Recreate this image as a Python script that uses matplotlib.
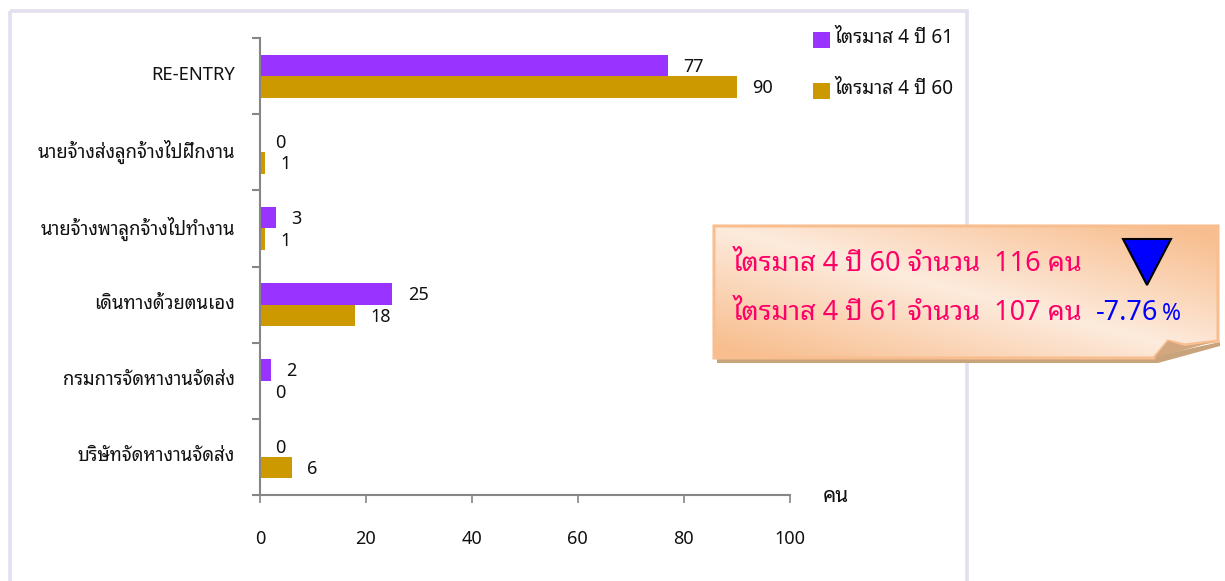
import matplotlib
matplotlib.use('Agg')
import matplotlib.pyplot as plt
import numpy as np
from matplotlib.patches import PathPatch, Polygon, Rectangle
from matplotlib.path import Path

plt.rcParams['font.family'] = ['Noto Sans Thai Looped', 'Noto Sans Thai', 'DejaVu Sans']

categories = ['RE-ENTRY', 'นายจ้างส่งลูกจ้างไปฝึกงาน', 'นายจ้างพาลูกจ้างไปทำงาน',
              'เดินทางด้วยตนเอง', 'กรมการจัดหางานจัดส่ง', 'บริษัทจัดหางานจัดส่ง']
q4_61 = [77, 0, 3, 25, 2, 0]
q4_60 = [90, 1, 1, 18, 0, 6]
x_ticks = [0, 20, 40, 60, 80, 100]
name_61 = 'ไตรมาส 4 ปี 61'
name_60 = 'ไตรมาส 4 ปี 60'
line_60 = 'ไตรมาส 4 ปี 60 จำนวน  116 คน'
line_61 = 'ไตรมาส 4 ปี 61 จำนวน  107 คน'
change = '-7.76'

W, H = 1225, 581
PURPLE = '#9933FF'
GOLD = '#CC9900'
GREY = '#868686'
TXT = '#111111'
FS = 13

fig = plt.figure(figsize=(W / 100, H / 100), dpi=100, facecolor='white')

# overlay in pixel coords for the frame and the note
bg = fig.add_axes([0, 0, 1, 1], zorder=0)
bg.set_xlim(0, W)
bg.set_ylim(H, 0)
bg.axis('off')
bg.add_patch(Rectangle((9.5, 10.5), 957, 600, fill=False, ec='#E3DFEE', lw=2.6))

ax = fig.add_axes([260 / W, 1 - 495 / H, 529.5 / W, 457 / H], zorder=1)
ax.patch.set_alpha(0)
y = np.arange(len(categories))
bar_h = 0.283
ax.barh(y - bar_h / 2, q4_61, bar_h, color=PURPLE)
ax.barh(y + bar_h / 2, q4_60, bar_h, color=GOLD)
ax.set_xlim(0, 100)
ax.set_ylim(len(categories) - 0.5, -0.5)

for i in range(len(categories)):
    ax.annotate(str(q4_61[i]), (q4_61[i], y[i] - bar_h / 2), xytext=(11, -1), textcoords='offset points',
                ha='left', va='center', fontsize=FS, color=TXT)
    ax.annotate(str(q4_60[i]), (q4_60[i], y[i] + bar_h / 2), xytext=(11, -1), textcoords='offset points',
                ha='left', va='center', fontsize=FS, color=TXT)

ax.set_yticks(np.arange(len(categories) + 1) - 0.5)
ax.set_yticklabels([])
ax.set_yticks(y - 0.04, categories, minor=True, fontsize=13.25, color=TXT, fontweight=500)
ax.tick_params(axis='y', which='major', length=5.5, width=1.5, color=GREY)
ax.tick_params(axis='y', which='minor', length=0, pad=18)
ax.set_xticks(x_ticks)
ax.tick_params(axis='x', length=5.5, width=1.2, color=GREY, pad=20, labelsize=FS, labelcolor=TXT)
for side in ['top', 'right']:
    ax.spines[side].set_visible(False)
for side in ['left', 'bottom']:
    ax.spines[side].set_color(GREY)
    ax.spines[side].set_linewidth(1.5)

fg = fig.add_axes([0, 0, 1, 1], zorder=2)
fg.set_xlim(0, W)
fg.set_ylim(H, 0)
fg.axis('off')
fg.patch.set_alpha(0)

fg.text(823, 497, 'คน', fontsize=15, color=TXT, va='center')

# legend
fg.add_patch(Rectangle((813, 32), 16.5, 16, color=PURPLE, lw=0))
fg.add_patch(Rectangle((813, 83), 16.5, 16, color=GOLD, lw=0))
fg.text(834, 38, name_61, fontsize=13.7, color=TXT, va='center')
fg.text(834, 89, name_60, fontsize=13.7, color=TXT, va='center')

# note shadow, then note with diagonal gradient
fg.add_patch(Polygon([(717, 356), (1156, 356), (1220, 342), (1220, 346), (1158, 363), (717, 363)],
                     color='#C9A37C', lw=0))
note = Path([(714, 226), (1218, 226), (1218, 341), (1185, 345), (1168, 341), (1154, 358), (714, 358), (714, 226)],
            closed=True)
uu, vv = np.meshgrid(np.linspace(0, 1, 256), np.linspace(0, 1, 128))
shade = np.abs(uu - vv)
light = np.array([253, 235, 221]) / 255
dark = np.array([248, 190, 143]) / 255
grad = light + (dark - light) * np.clip(shade * 1.1, 0, 1)[..., None]
im = fg.imshow(grad, extent=(714, 1218, 358, 226), aspect='auto', zorder=3)
edge = PathPatch(note, fc='none', ec='#F8BE8F', lw=2.2, zorder=4)
fg.add_patch(edge)
im.set_clip_path(edge)
fg.add_patch(Polygon([(1154, 358), (1168, 341), (1185, 346), (1213, 342)], color='#D2A67E', lw=0, zorder=4))
fg.set_xlim(0, W)
fg.set_ylim(H, 0)

PINK = '#FF0066'
fg.text(733, 264, line_60, fontsize=19.45, color=PINK, va='center', fontweight=500, zorder=5)
fg.text(733, 313, line_61, fontsize=19.45, color=PINK, va='center', fontweight=500, zorder=5)
fg.text(1096, 313, change, fontsize=19.45, color='#0000FF', va='center', fontweight=500, zorder=5)
fg.text(1162, 314, '%', fontsize=16.5, color='#0000FF', va='center', fontweight=500, zorder=5)
fg.add_patch(Polygon([(1123, 239), (1171, 239), (1147, 285)], fc='#0000FF', ec='black', lw=1.5, zorder=5))

fig.savefig('out.png', dpi=100)
